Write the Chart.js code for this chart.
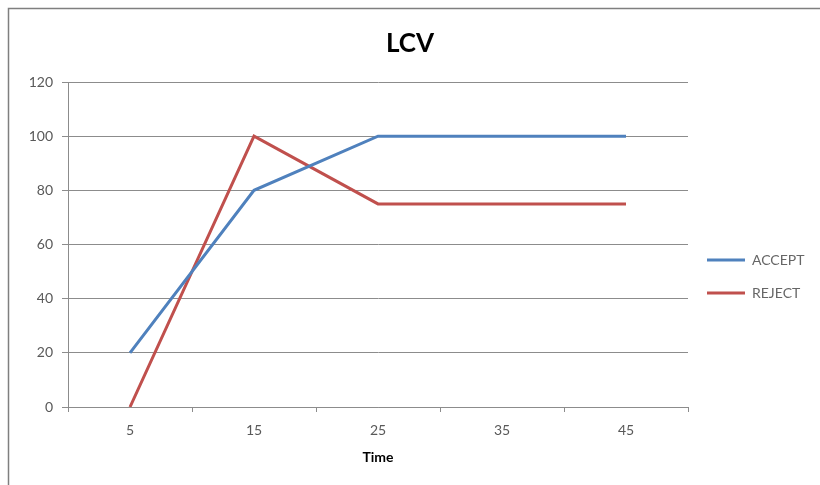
<!DOCTYPE html>
<html>
<head>
<meta charset="utf-8">
<script src="https://cdn.jsdelivr.net/npm/chart.js@4"></script>
<style>
  html, body { margin: 0; padding: 0; background: #ffffff; }
  #wrap { position: relative; width: 820px; height: 485px; }
  canvas { display: block; }
</style>
</head>
<body>
<div id="wrap"><canvas id="c" width="820" height="485"></canvas></div>
<script>
// Sampling times (x categories) and the two measured series
const times = ['5', '15', '25', '35', '45'];
const acceptValues = [20, 80, 100, 100, 100];
const rejectValues = [0, 100, 75, 75, 75];
const seriesNames = ['ACCEPT', 'REJECT'];
const seriesColors = ['#4F81BD', '#C0504D'];

const FONT = 'Lato, "Liberation Sans", sans-serif';
const GRID = '#8c8c8c';

// Thin grey frame around the whole chart
const framePlugin = {
  id: 'frame',
  beforeDraw(chart) {
    const ctx = chart.ctx;
    ctx.save();
    ctx.fillStyle = '#ffffff';
    ctx.fillRect(0, 0, chart.width, chart.height);
    ctx.strokeStyle = '#7f7f7f';
    ctx.lineWidth = 1.5;
    ctx.beginPath();
    ctx.moveTo(8.5, chart.height + 2);
    ctx.lineTo(8.5, 8.5);
    ctx.lineTo(chart.width + 2, 8.5);
    ctx.stroke();
    ctx.restore();
  }
};

// Fixed width for the legend column on the right
const legendWidthPlugin = {
  id: 'legendWidth',
  afterInit(chart) {
    const lg = chart.legend;
    if (!lg || lg._fixedWidth) return;
    const fit = lg.fit;
    lg.fit = function () { fit.call(this); this.width = 132; };
    lg._fixedWidth = true;
  }
};

new Chart(document.getElementById('c'), {
  type: 'line',
  data: {
    labels: times,
    datasets: [
      { label: seriesNames[0], data: acceptValues, borderColor: seriesColors[0], backgroundColor: seriesColors[0] },
      { label: seriesNames[1], data: rejectValues, borderColor: seriesColors[1], backgroundColor: seriesColors[1] }
    ]
  },
  options: {
    responsive: false,
    animation: false,
    devicePixelRatio: 1,
    layout: { padding: { left: 0, right: 0, top: 0, bottom: 0 } },
    elements: {
      line: { borderWidth: 3, tension: 0 },
      point: { radius: 0, hoverRadius: 0 }
    },
    plugins: {
      tooltip: { enabled: false },
      title: {
        display: true,
        text: 'LCV',
        color: '#000000',
        font: { family: FONT, size: 26, weight: 'bold' },
        padding: { top: 28.4, bottom: 22.4 }
      },
      legend: {
        position: 'right',
        align: 'center',
        title: { display: true, text: ' ', font: { size: 10 }, padding: { top: 0, bottom: 56 } },
        labels: {
          boxWidth: 38,
          boxHeight: 3,
          padding: 19,
          color: '#333333',
          font: { family: FONT, size: 14 },
          generateLabels(chart) {
            return chart.data.datasets.map((ds, i) => ({
              text: ds.label,
              fillStyle: ds.borderColor,
              strokeStyle: ds.borderColor,
              lineWidth: 0,
              hidden: false,
              datasetIndex: i
            }));
          }
        }
      }
    },
    scales: {
      x: {
        type: 'category',
        offset: true,
        afterFit(scale) { scale.height = 78; },
        grid: {
          offset: true,
          drawOnChartArea: false,
          drawTicks: true,
          tickLength: 5,
          color: GRID
        },
        border: { display: true, color: GRID, width: 1 },
        ticks: {
          color: '#595959',
          padding: 10,
          maxRotation: 0,
          font: { family: FONT, size: 14 }
        },
        title: {
          display: true,
          text: 'Time',
          color: '#000000',
          font: { family: FONT, size: 14, weight: 'bold' },
          padding: { top: 0, bottom: 19 }
        }
      },
      y: {
        min: 0,
        max: 120,
        afterFit(scale) { scale.width = 68; },
        grid: {
          color: GRID,
          lineWidth: 1,
          drawTicks: true,
          tickLength: 6
        },
        border: { display: true, color: GRID, width: 1 },
        ticks: {
          stepSize: 20,
          color: '#595959',
          padding: 9,
          font: { family: FONT, size: 14 }
        }
      }
    }
  },
  plugins: [framePlugin, legendWidthPlugin]
});
</script>
</body>
</html>
